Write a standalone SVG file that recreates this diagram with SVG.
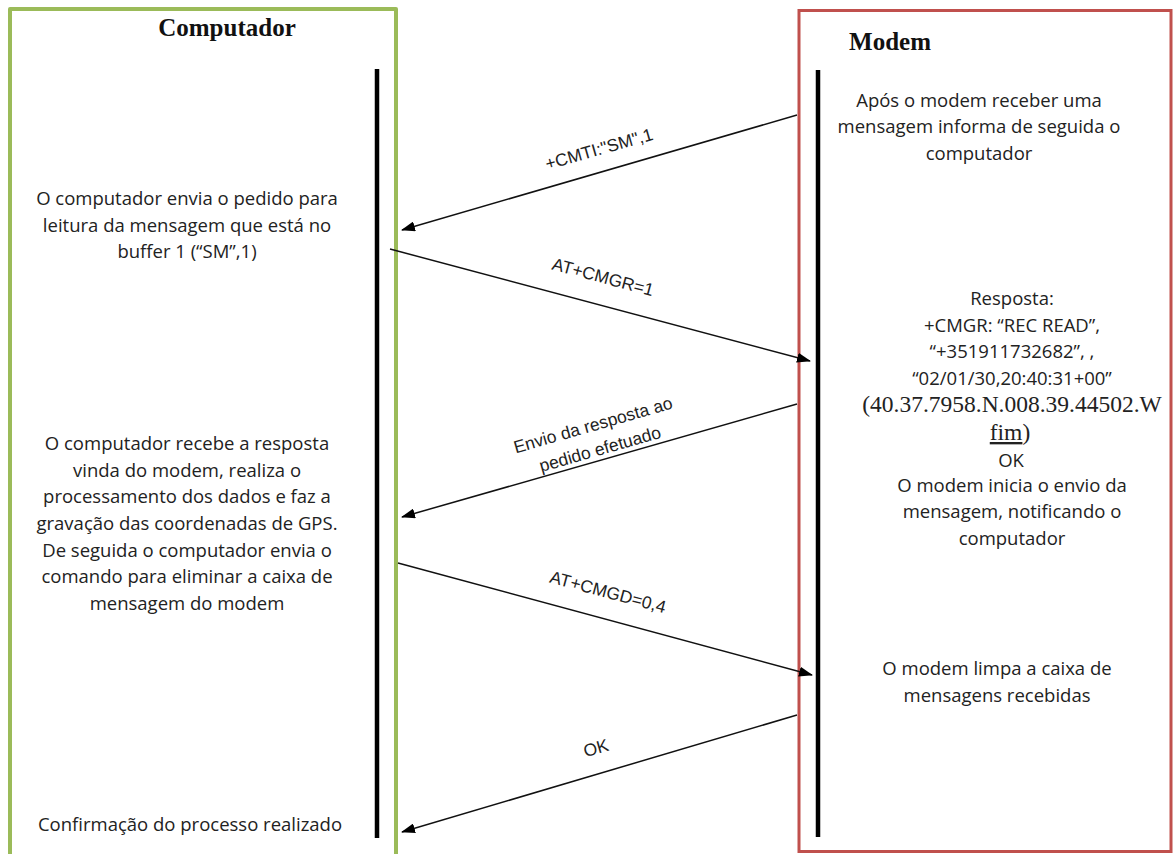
<svg xmlns="http://www.w3.org/2000/svg" width="1174" height="854" viewBox="0 0 1174 854">
<style>
.t{font-family:"Open Sans","Noto Sans",sans-serif;font-size:18.5px;fill:#222;text-anchor:middle}
.s{font-family:"Liberation Serif",serif;font-size:23.5px;fill:#222;text-anchor:middle}
.h{font-family:"Liberation Serif",serif;font-weight:bold;fill:#111}
.l{font-family:"Liberation Sans",Arial,sans-serif;font-size:17.5px;fill:#222;text-anchor:middle}
.c{stroke:#111;stroke-width:1.5;fill:none;marker-end:url(#ah)}
.life{stroke:#000;stroke-width:4.5}
</style>
<defs>
<marker id="ah" viewBox="0 0 14 10" refX="13" refY="5" markerWidth="14" markerHeight="10" markerUnits="userSpaceOnUse" orient="auto">
<path d="M0,0 L14,5 L0,10 Z" fill="#000"/>
</marker>
</defs>
<rect width="1174" height="854" fill="#fff"/>
<g id="computador">
<path d="M10,870 V9 H396 V870" fill="none" stroke="#9BBB59" stroke-width="4" stroke-linejoin="round"/>
<text class="h" x="227" y="36" font-size="25" text-anchor="middle">Computador</text>
<line class="life" x1="377" y1="69" x2="377" y2="838"/>
<text class="t" x="187" y="205">O computador envia o pedido para</text>
<text class="t" x="187" y="232">leitura da mensagem que está no</text>
<text class="t" x="187" y="258">buffer 1 (“SM”,1)</text>
<text class="t" x="187" y="450">O computador recebe a resposta</text>
<text class="t" x="187" y="477">vinda do modem, realiza o</text>
<text class="t" x="187" y="503">processamento dos dados e faz a</text>
<text class="t" x="187" y="530">gravação das coordenadas de GPS.</text>
<text class="t" x="187" y="557">De seguida o computador envia o</text>
<text class="t" x="187" y="583">comando para eliminar a caixa de</text>
<text class="t" x="187" y="610">mensagem do modem</text>
<text class="t" x="190" y="831">Confirmação do processo realizado</text>
</g>
<g id="modem">
<rect x="799" y="10.5" width="372" height="841" fill="none" stroke="#C0504D" stroke-width="3"/>
<text class="h" x="890" y="50" font-size="25" text-anchor="middle">Modem</text>
<line class="life" x1="818" y1="70" x2="818" y2="837"/>
<text class="t" x="979" y="107">Após o modem receber uma</text>
<text class="t" x="979" y="133">mensagem informa de seguida o</text>
<text class="t" x="979" y="160">computador</text>
<text class="t" x="1012" y="305">Resposta:</text>
<text class="t" x="1012" y="332">+CMGR: “REC READ”,</text>
<text class="t" x="1012" y="358">“+351911732682”, ,</text>
<text class="t" x="1012" y="385">“02/01/30,20:40:31+00”</text>
<text class="s" x="1012" y="412">(40.37.7958.N.008.39.44502.W</text>
<text class="s" x="1010" y="440"><tspan text-decoration="underline">fim</tspan>)</text>
<text class="t" x="1011" y="467">OK</text>
<text class="t" x="1012" y="492">O modem inicia o envio da</text>
<text class="t" x="1012" y="518">mensagem, notificando o</text>
<text class="t" x="1012" y="545">computador</text>
<text class="t" x="997" y="675">O modem limpa a caixa de</text>
<text class="t" x="997" y="702">mensagens recebidas</text>
</g>
<g id="connectors">
<line class="c" x1="797" y1="115" x2="402" y2="230"/>
<text class="l" transform="translate(599,149) rotate(-16)" y="6">+CMTI:"SM",1</text>
<line class="c" x1="390" y1="249" x2="810" y2="361"/>
<text class="l" transform="translate(603,277) rotate(15)" y="6">AT+CMGR=1</text>
<line class="c" x1="797" y1="404" x2="402" y2="517"/>
<text class="l" transform="translate(593,425) rotate(-16)" y="6">Envio da resposta ao</text>
<text class="l" transform="translate(600,449) rotate(-16)" y="6">pedido efetuado</text>
<line class="c" x1="398" y1="563" x2="812" y2="675"/>
<text class="l" transform="translate(608,592) rotate(15)" y="6">AT+CMGD=0,4</text>
<line class="c" x1="797" y1="715" x2="402" y2="832"/>
<text class="l" transform="translate(596,748) rotate(-16)" y="6">OK</text>
</g>
</svg>
